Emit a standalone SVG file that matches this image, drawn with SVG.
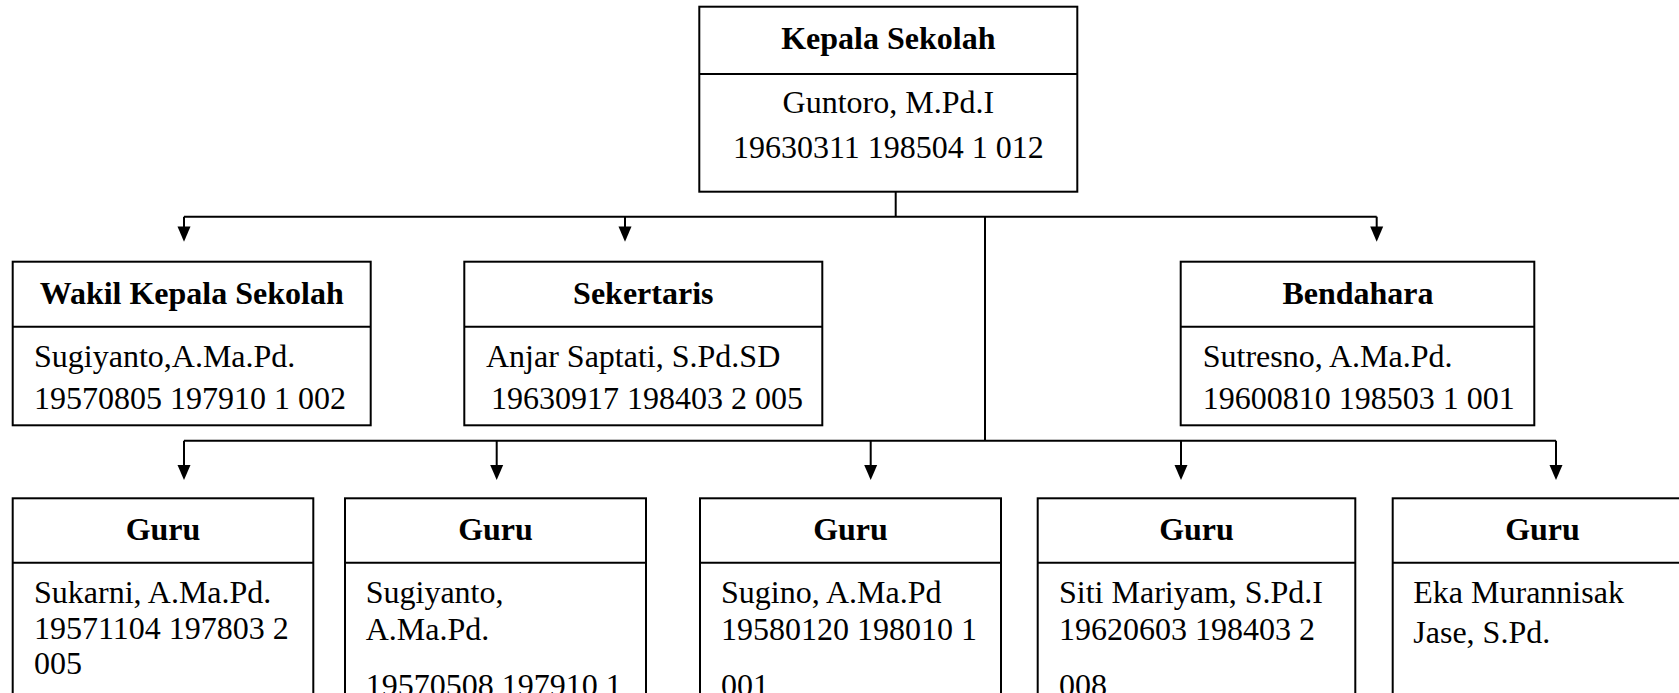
<svg xmlns="http://www.w3.org/2000/svg" width="1679" height="693" viewBox="0 0 1679 693">
<defs>
<style>
.box{fill:#fff;stroke:#000;stroke-width:2}
.div{stroke:#000;stroke-width:2}
.con{fill:none;stroke:#000;stroke-width:2}
.ah{fill:#000}
.h{font-family:"Liberation Serif","Times New Roman",serif;font-size:32px;font-weight:bold;text-anchor:middle;fill:#000}
.t{font-family:"Liberation Serif","Times New Roman",serif;font-size:32px;fill:#000}
.c{text-anchor:middle}
</style>
</defs>
<rect width="1679" height="693" fill="#fff"/>
<g id="connectors">
<path class="con" d="M895.7 191.7 V216.7"/>
<path class="con" d="M184 216.7 H1376.7"/>
<path class="con" d="M985 216.7 V440.7"/>
<path class="con" d="M184 440.7 H1556"/>
<path class="con" d="M184 216.7 V228"/><path class="ah" d="M177.5 226.5 H190.5 L184 241.7 Z"/>
<path class="con" d="M625 216.7 V228"/><path class="ah" d="M618.5 226.5 H631.5 L625 241.7 Z"/>
<path class="con" d="M1376.7 216.7 V228"/><path class="ah" d="M1370.2 226.5 H1383.2 L1376.7 241.7 Z"/>
<path class="con" d="M184 440.7 V466"/><path class="ah" d="M177.5 465 H190.5 L184 480 Z"/>
<path class="con" d="M496.7 440.7 V466"/><path class="ah" d="M490.2 465 H503.2 L496.7 480 Z"/>
<path class="con" d="M870.7 440.7 V466"/><path class="ah" d="M864.2 465 H877.2 L870.7 480 Z"/>
<path class="con" d="M1181 440.7 V466"/><path class="ah" d="M1174.5 465 H1187.5 L1181 480 Z"/>
<path class="con" d="M1556 440.7 V466"/><path class="ah" d="M1549.5 465 H1562.5 L1556 480 Z"/>
</g>
<g id="kepala">
<rect class="box" x="699.3" y="6.7" width="378" height="185"/>
<line class="div" x1="699.3" y1="74" x2="1077.3" y2="74"/>
<text class="h" x="888.3" y="48.5">Kepala Sekolah</text>
<text class="t c" x="888.3" y="113.3">Guntoro, M.Pd.I</text>
<text class="t c" x="888.3" y="158.3">19630311 198504 1 012</text>
</g>
<g id="wakil">
<rect class="box" x="12.7" y="261.7" width="358" height="163.6"/>
<line class="div" x1="12.7" y1="326.7" x2="370.7" y2="326.7"/>
<text class="h" x="191.7" y="304">Wakil Kepala Sekolah</text>
<text class="t" x="34" y="366.7">Sugiyanto,A.Ma.Pd.</text>
<text class="t" x="34" y="409">19570805 197910 1 002</text>
</g>
<g id="sekertaris">
<rect class="box" x="464.3" y="261.7" width="358" height="163.6"/>
<line class="div" x1="464.3" y1="326.7" x2="822.3" y2="326.7"/>
<text class="h" x="643.3" y="304">Sekertaris</text>
<text class="t" x="486" y="366.7">Anjar Saptati, S.Pd.SD</text>
<text class="t" x="491" y="409">19630917 198403 2 005</text>
</g>
<g id="bendahara">
<rect class="box" x="1180.7" y="261.7" width="353.6" height="163.6"/>
<line class="div" x1="1180.7" y1="326.7" x2="1534.3" y2="326.7"/>
<text class="h" x="1358" y="304">Bendahara</text>
<text class="t" x="1202.7" y="366.7">Sutresno, A.Ma.Pd.</text>
<text class="t" x="1202.7" y="409">19600810 198503 1 001</text>
</g>
<g id="guru1">
<rect class="box" x="12.7" y="498.3" width="300.6" height="230"/>
<line class="div" x1="12.7" y1="562.7" x2="313.3" y2="562.7"/>
<text class="h" x="163" y="540">Guru</text>
<text class="t" x="34" y="603.3">Sukarni, A.Ma.Pd.</text>
<text class="t" x="34" y="639">19571104 197803 2</text>
<text class="t" x="34" y="673.5">005</text>
</g>
<g id="guru2">
<rect class="box" x="345" y="498.3" width="301" height="230"/>
<line class="div" x1="345" y1="562.7" x2="646" y2="562.7"/>
<text class="h" x="495.5" y="540">Guru</text>
<text class="t" x="365.7" y="603.3">Sugiyanto,</text>
<text class="t" x="365.7" y="640">A.Ma.Pd.</text>
<text class="t" x="365.7" y="696">19570508 197910 1</text>
</g>
<g id="guru3">
<rect class="box" x="700" y="498.3" width="301" height="230"/>
<line class="div" x1="700" y1="562.7" x2="1001" y2="562.7"/>
<text class="h" x="850.5" y="540">Guru</text>
<text class="t" x="721" y="603.3">Sugino, A.Ma.Pd</text>
<text class="t" x="721" y="640">19580120 198010 1</text>
<text class="t" x="721" y="696">001</text>
</g>
<g id="guru4">
<rect class="box" x="1037.7" y="498.3" width="317.6" height="230"/>
<line class="div" x1="1037.7" y1="562.7" x2="1355.3" y2="562.7"/>
<text class="h" x="1196.5" y="540">Guru</text>
<text class="t" x="1059" y="603.3">Siti Mariyam, S.Pd.I</text>
<text class="t" x="1059" y="640">19620603 198403 2</text>
<text class="t" x="1059" y="696">008</text>
</g>
<g id="guru5">
<rect class="box" x="1392.7" y="498.3" width="300" height="230"/>
<line class="div" x1="1392.7" y1="562.7" x2="1692.7" y2="562.7"/>
<text class="h" x="1542.5" y="540">Guru</text>
<text class="t" x="1413.3" y="603.3">Eka Murannisak</text>
<text class="t" x="1413.3" y="643.3">Jase, S.Pd.</text>
</g>
</svg>
